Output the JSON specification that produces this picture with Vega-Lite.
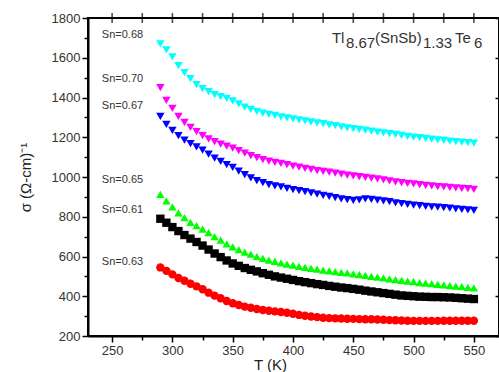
{
  "$schema": "https://vega.github.io/schema/vega-lite/v6.json",
  "width": 411,
  "height": 318,
  "autosize": {"type": "none"},
  "padding": {"left": 88, "top": 18, "right": 0, "bottom": 36},
  "background": "white",
  "config": {
    "view": {"stroke": "black", "strokeWidth": 2},
    "axis": {
      "domainColor": "black", "domainWidth": 2, "tickColor": "black", "tickWidth": 1.5,
      "labelFont": "Liberation Sans", "labelFontSize": 13, "labelColor": "#333",
      "titleFont": "Liberation Sans", "titleFontSize": 15, "titleFontWeight": "normal", "titleColor": "#222",
      "grid": false
    }
  },
  "datasets": {
    "pts": [
      {"sn":"0.68","T":290,"s":1670},{"sn":"0.68","T":295,"s":1640},{"sn":"0.68","T":300,"s":1605},{"sn":"0.68","T":305,"s":1560},{"sn":"0.68","T":310,"s":1525},{"sn":"0.68","T":315,"s":1495},{"sn":"0.68","T":320,"s":1465},{"sn":"0.68","T":325,"s":1445},{"sn":"0.68","T":330,"s":1430},{"sn":"0.68","T":335,"s":1415},{"sn":"0.68","T":340,"s":1405},{"sn":"0.68","T":345,"s":1395},{"sn":"0.68","T":350,"s":1383},{"sn":"0.68","T":355,"s":1368},{"sn":"0.68","T":360,"s":1352},{"sn":"0.68","T":365,"s":1340},{"sn":"0.68","T":370,"s":1330},{"sn":"0.68","T":375,"s":1322},{"sn":"0.68","T":380,"s":1315},{"sn":"0.68","T":385,"s":1310},{"sn":"0.68","T":390,"s":1303},{"sn":"0.68","T":395,"s":1298},{"sn":"0.68","T":400,"s":1292},{"sn":"0.68","T":405,"s":1287},{"sn":"0.68","T":410,"s":1282},{"sn":"0.68","T":415,"s":1277},{"sn":"0.68","T":420,"s":1272},{"sn":"0.68","T":425,"s":1268},{"sn":"0.68","T":430,"s":1262},{"sn":"0.68","T":435,"s":1258},{"sn":"0.68","T":440,"s":1252},{"sn":"0.68","T":445,"s":1247},{"sn":"0.68","T":450,"s":1243},{"sn":"0.68","T":455,"s":1240},{"sn":"0.68","T":460,"s":1236},{"sn":"0.68","T":465,"s":1231},{"sn":"0.68","T":470,"s":1226},{"sn":"0.68","T":475,"s":1222},{"sn":"0.68","T":480,"s":1218},{"sn":"0.68","T":485,"s":1214},{"sn":"0.68","T":490,"s":1210},{"sn":"0.68","T":495,"s":1205},{"sn":"0.68","T":500,"s":1201},{"sn":"0.68","T":505,"s":1198},{"sn":"0.68","T":510,"s":1194},{"sn":"0.68","T":515,"s":1190},{"sn":"0.68","T":520,"s":1187},{"sn":"0.68","T":525,"s":1184},{"sn":"0.68","T":530,"s":1181},{"sn":"0.68","T":535,"s":1178},{"sn":"0.68","T":540,"s":1175},{"sn":"0.68","T":545,"s":1173},{"sn":"0.68","T":550,"s":1171},
      {"sn":"0.70","T":290,"s":1450},{"sn":"0.70","T":295,"s":1385},{"sn":"0.70","T":300,"s":1345},{"sn":"0.70","T":305,"s":1305},{"sn":"0.70","T":310,"s":1275},{"sn":"0.70","T":315,"s":1250},{"sn":"0.70","T":320,"s":1228},{"sn":"0.70","T":325,"s":1208},{"sn":"0.70","T":330,"s":1192},{"sn":"0.70","T":335,"s":1178},{"sn":"0.70","T":340,"s":1165},{"sn":"0.70","T":345,"s":1155},{"sn":"0.70","T":350,"s":1145},{"sn":"0.70","T":355,"s":1133},{"sn":"0.70","T":360,"s":1120},{"sn":"0.70","T":365,"s":1108},{"sn":"0.70","T":370,"s":1097},{"sn":"0.70","T":375,"s":1088},{"sn":"0.70","T":380,"s":1080},{"sn":"0.70","T":385,"s":1074},{"sn":"0.70","T":390,"s":1068},{"sn":"0.70","T":395,"s":1062},{"sn":"0.70","T":400,"s":1055},{"sn":"0.70","T":405,"s":1050},{"sn":"0.70","T":410,"s":1044},{"sn":"0.70","T":415,"s":1038},{"sn":"0.70","T":420,"s":1032},{"sn":"0.70","T":425,"s":1028},{"sn":"0.70","T":430,"s":1024},{"sn":"0.70","T":435,"s":1019},{"sn":"0.70","T":440,"s":1014},{"sn":"0.70","T":445,"s":1010},{"sn":"0.70","T":450,"s":1006},{"sn":"0.70","T":455,"s":1002},{"sn":"0.70","T":460,"s":998},{"sn":"0.70","T":465,"s":994},{"sn":"0.70","T":470,"s":990},{"sn":"0.70","T":475,"s":986},{"sn":"0.70","T":480,"s":980},{"sn":"0.70","T":485,"s":976},{"sn":"0.70","T":490,"s":972},{"sn":"0.70","T":495,"s":968},{"sn":"0.70","T":500,"s":965},{"sn":"0.70","T":505,"s":962},{"sn":"0.70","T":510,"s":958},{"sn":"0.70","T":515,"s":955},{"sn":"0.70","T":520,"s":952},{"sn":"0.70","T":525,"s":950},{"sn":"0.70","T":530,"s":948},{"sn":"0.70","T":535,"s":945},{"sn":"0.70","T":540,"s":943},{"sn":"0.70","T":545,"s":941},{"sn":"0.70","T":550,"s":938},
      {"sn":"0.67","T":290,"s":1305},{"sn":"0.67","T":295,"s":1265},{"sn":"0.67","T":300,"s":1235},{"sn":"0.67","T":305,"s":1208},{"sn":"0.67","T":310,"s":1185},{"sn":"0.67","T":315,"s":1168},{"sn":"0.67","T":320,"s":1152},{"sn":"0.67","T":325,"s":1135},{"sn":"0.67","T":330,"s":1115},{"sn":"0.67","T":335,"s":1095},{"sn":"0.67","T":340,"s":1078},{"sn":"0.67","T":345,"s":1062},{"sn":"0.67","T":350,"s":1048},{"sn":"0.67","T":355,"s":1030},{"sn":"0.67","T":360,"s":1012},{"sn":"0.67","T":365,"s":995},{"sn":"0.67","T":370,"s":982},{"sn":"0.67","T":375,"s":972},{"sn":"0.67","T":380,"s":962},{"sn":"0.67","T":385,"s":955},{"sn":"0.67","T":390,"s":950},{"sn":"0.67","T":395,"s":943},{"sn":"0.67","T":400,"s":937},{"sn":"0.67","T":405,"s":932},{"sn":"0.67","T":410,"s":926},{"sn":"0.67","T":415,"s":920},{"sn":"0.67","T":420,"s":914},{"sn":"0.67","T":425,"s":908},{"sn":"0.67","T":430,"s":902},{"sn":"0.67","T":435,"s":896},{"sn":"0.67","T":440,"s":890},{"sn":"0.67","T":445,"s":886},{"sn":"0.67","T":450,"s":882},{"sn":"0.67","T":455,"s":885},{"sn":"0.67","T":460,"s":890},{"sn":"0.67","T":465,"s":888},{"sn":"0.67","T":470,"s":884},{"sn":"0.67","T":475,"s":880},{"sn":"0.67","T":480,"s":876},{"sn":"0.67","T":485,"s":870},{"sn":"0.67","T":490,"s":866},{"sn":"0.67","T":495,"s":862},{"sn":"0.67","T":500,"s":858},{"sn":"0.67","T":505,"s":856},{"sn":"0.67","T":510,"s":852},{"sn":"0.67","T":515,"s":850},{"sn":"0.67","T":520,"s":848},{"sn":"0.67","T":525,"s":846},{"sn":"0.67","T":530,"s":843},{"sn":"0.67","T":535,"s":840},{"sn":"0.67","T":540,"s":837},{"sn":"0.67","T":545,"s":835},{"sn":"0.67","T":550,"s":832},
      {"sn":"0.65","T":290,"s":912},{"sn":"0.65","T":295,"s":880},{"sn":"0.65","T":300,"s":850},{"sn":"0.65","T":305,"s":820},{"sn":"0.65","T":310,"s":795},{"sn":"0.65","T":315,"s":772},{"sn":"0.65","T":320,"s":755},{"sn":"0.65","T":325,"s":738},{"sn":"0.65","T":330,"s":720},{"sn":"0.65","T":335,"s":700},{"sn":"0.65","T":340,"s":682},{"sn":"0.65","T":345,"s":664},{"sn":"0.65","T":350,"s":648},{"sn":"0.65","T":355,"s":635},{"sn":"0.65","T":360,"s":622},{"sn":"0.65","T":365,"s":612},{"sn":"0.65","T":370,"s":600},{"sn":"0.65","T":375,"s":590},{"sn":"0.65","T":380,"s":582},{"sn":"0.65","T":385,"s":575},{"sn":"0.65","T":390,"s":568},{"sn":"0.65","T":395,"s":562},{"sn":"0.65","T":400,"s":556},{"sn":"0.65","T":405,"s":550},{"sn":"0.65","T":410,"s":545},{"sn":"0.65","T":415,"s":540},{"sn":"0.65","T":420,"s":536},{"sn":"0.65","T":425,"s":532},{"sn":"0.65","T":430,"s":528},{"sn":"0.65","T":435,"s":524},{"sn":"0.65","T":440,"s":520},{"sn":"0.65","T":445,"s":517},{"sn":"0.65","T":450,"s":513},{"sn":"0.65","T":455,"s":509},{"sn":"0.65","T":460,"s":505},{"sn":"0.65","T":465,"s":500},{"sn":"0.65","T":470,"s":496},{"sn":"0.65","T":475,"s":492},{"sn":"0.65","T":480,"s":488},{"sn":"0.65","T":485,"s":484},{"sn":"0.65","T":490,"s":480},{"sn":"0.65","T":495,"s":476},{"sn":"0.65","T":500,"s":473},{"sn":"0.65","T":505,"s":469},{"sn":"0.65","T":510,"s":466},{"sn":"0.65","T":515,"s":463},{"sn":"0.65","T":520,"s":460},{"sn":"0.65","T":525,"s":457},{"sn":"0.65","T":530,"s":454},{"sn":"0.65","T":535,"s":451},{"sn":"0.65","T":540,"s":448},{"sn":"0.65","T":545,"s":445},{"sn":"0.65","T":550,"s":442},
      {"sn":"0.61","T":290,"s":790},{"sn":"0.61","T":295,"s":770},{"sn":"0.61","T":300,"s":748},{"sn":"0.61","T":305,"s":728},{"sn":"0.61","T":310,"s":708},{"sn":"0.61","T":315,"s":690},{"sn":"0.61","T":320,"s":673},{"sn":"0.61","T":325,"s":655},{"sn":"0.61","T":330,"s":635},{"sn":"0.61","T":335,"s":615},{"sn":"0.61","T":340,"s":597},{"sn":"0.61","T":345,"s":580},{"sn":"0.61","T":350,"s":565},{"sn":"0.61","T":355,"s":553},{"sn":"0.61","T":360,"s":542},{"sn":"0.61","T":365,"s":533},{"sn":"0.61","T":370,"s":525},{"sn":"0.61","T":375,"s":516},{"sn":"0.61","T":380,"s":508},{"sn":"0.61","T":385,"s":500},{"sn":"0.61","T":390,"s":494},{"sn":"0.61","T":395,"s":488},{"sn":"0.61","T":400,"s":482},{"sn":"0.61","T":405,"s":476},{"sn":"0.61","T":410,"s":471},{"sn":"0.61","T":415,"s":466},{"sn":"0.61","T":420,"s":461},{"sn":"0.61","T":425,"s":457},{"sn":"0.61","T":430,"s":452},{"sn":"0.61","T":435,"s":448},{"sn":"0.61","T":440,"s":444},{"sn":"0.61","T":445,"s":441},{"sn":"0.61","T":450,"s":437},{"sn":"0.61","T":455,"s":433},{"sn":"0.61","T":460,"s":428},{"sn":"0.61","T":465,"s":424},{"sn":"0.61","T":470,"s":420},{"sn":"0.61","T":475,"s":416},{"sn":"0.61","T":480,"s":412},{"sn":"0.61","T":485,"s":408},{"sn":"0.61","T":490,"s":404},{"sn":"0.61","T":495,"s":402},{"sn":"0.61","T":500,"s":400},{"sn":"0.61","T":505,"s":398},{"sn":"0.61","T":510,"s":397},{"sn":"0.61","T":515,"s":396},{"sn":"0.61","T":520,"s":396},{"sn":"0.61","T":525,"s":395},{"sn":"0.61","T":530,"s":394},{"sn":"0.61","T":535,"s":392},{"sn":"0.61","T":540,"s":390},{"sn":"0.61","T":545,"s":388},{"sn":"0.61","T":550,"s":386},
      {"sn":"0.63","T":290,"s":545},{"sn":"0.63","T":295,"s":528},{"sn":"0.63","T":300,"s":510},{"sn":"0.63","T":305,"s":492},{"sn":"0.63","T":310,"s":478},{"sn":"0.63","T":315,"s":463},{"sn":"0.63","T":320,"s":450},{"sn":"0.63","T":325,"s":435},{"sn":"0.63","T":330,"s":418},{"sn":"0.63","T":335,"s":403},{"sn":"0.63","T":340,"s":390},{"sn":"0.63","T":345,"s":376},{"sn":"0.63","T":350,"s":365},{"sn":"0.63","T":355,"s":356},{"sn":"0.63","T":360,"s":348},{"sn":"0.63","T":365,"s":342},{"sn":"0.63","T":370,"s":336},{"sn":"0.63","T":375,"s":331},{"sn":"0.63","T":380,"s":327},{"sn":"0.63","T":385,"s":324},{"sn":"0.63","T":390,"s":321},{"sn":"0.63","T":395,"s":317},{"sn":"0.63","T":400,"s":312},{"sn":"0.63","T":405,"s":306},{"sn":"0.63","T":410,"s":302},{"sn":"0.63","T":415,"s":298},{"sn":"0.63","T":420,"s":295},{"sn":"0.63","T":425,"s":292},{"sn":"0.63","T":430,"s":290},{"sn":"0.63","T":435,"s":289},{"sn":"0.63","T":440,"s":288},{"sn":"0.63","T":445,"s":287},{"sn":"0.63","T":450,"s":286},{"sn":"0.63","T":455,"s":285},{"sn":"0.63","T":460,"s":284},{"sn":"0.63","T":465,"s":284},{"sn":"0.63","T":470,"s":283},{"sn":"0.63","T":475,"s":282},{"sn":"0.63","T":480,"s":280},{"sn":"0.63","T":485,"s":279},{"sn":"0.63","T":490,"s":278},{"sn":"0.63","T":495,"s":277},{"sn":"0.63","T":500,"s":276},{"sn":"0.63","T":505,"s":276},{"sn":"0.63","T":510,"s":276},{"sn":"0.63","T":515,"s":276},{"sn":"0.63","T":520,"s":276},{"sn":"0.63","T":525,"s":277},{"sn":"0.63","T":530,"s":277},{"sn":"0.63","T":535,"s":277},{"sn":"0.63","T":540,"s":277},{"sn":"0.63","T":545,"s":277},{"sn":"0.63","T":550,"s":277}
    ],
    "labels": [
      {"T":241.5,"s":1714,"txt":"Sn=0.68"},
      {"T":241.5,"s":1493,"txt":"Sn=0.70"},
      {"T":241.5,"s":1357,"txt":"Sn=0.67"},
      {"T":241.5,"s":985,"txt":"Sn=0.65"},
      {"T":241.5,"s":834,"txt":"Sn=0.61"},
      {"T":241.5,"s":572,"txt":"Sn=0.63"}
    ],
    "formulaBase": [
      {"T":432.3,"s":1674,"txt":"Tl"},
      {"T":468.0,"s":1674,"txt":"(SnSb)"},
      {"T":534.3,"s":1674,"txt":"Te"}
    ],
    "formulaSub": [
      {"T":443.9,"s":1674,"txt":"8.67"},
      {"T":507.8,"s":1674,"txt":"1.33"},
      {"T":550.1,"s":1674,"txt":"6"}
    ],
    "topTicks": [
      {"v":250},{"v":275},{"v":300},{"v":325},{"v":350},{"v":375},{"v":400},{"v":425},{"v":450},{"v":475},{"v":500},{"v":525},{"v":550}
    ]
  },
  "resolve": {"axis": {"x": "independent", "y": "independent"}},
  "layer": [
    {
      "data": {"name": "pts"},
      "mark": {"type": "point", "filled": true, "size": 70, "opacity": 1},
      "encoding": {
        "x": {"field": "T", "type": "quantitative",
              "scale": {"domain": [230, 570.83], "nice": false, "zero": false},
              "axis": {"title": "T (K)", "values": [250,275,300,325,350,375,400,425,450,475,500,525,550],
                       "labelExpr": "datum.value % 50 === 0 ? datum.label : ''",
                       "tickSize": {"condition": {"test": "datum.value % 50 === 0", "value": 6}, "value": 4},
                       "labelPadding": 2, "titlePadding": 0, "titleX": 182, "labelFlush": false}},
        "y": {"field": "s", "type": "quantitative",
              "scale": {"domain": [200, 1800], "nice": false, "zero": false},
              "axis": {"title": "σ (Ω-cm)⁻¹", "values": [200,300,400,500,600,700,800,900,1000,1100,1200,1300,1400,1500,1600,1700,1800],
                       "labelExpr": "datum.value % 200 === 0 ? datum.label : ''",
                       "format": "d",
                       "tickSize": {"condition": {"test": "datum.value % 200 === 0", "value": 6}, "value": 4},
                       "labelPadding": 2, "titlePadding": 18, "labelFlush": false}},
        "color": {"field": "sn", "type": "nominal", "legend": null,
                  "scale": {"domain": ["0.68","0.70","0.67","0.65","0.61","0.63"],
                            "range": ["#00FFFF","#FF00FF","#0000FF","#00FF00","#000000","#FF0000"]}},
        "shape": {"field": "sn", "type": "nominal", "legend": null,
                  "scale": {"domain": ["0.68","0.70","0.67","0.65","0.61","0.63"],
                            "range": ["triangle-down","triangle-down","triangle-down","triangle-up","square","circle"]}}
      }
    },
    {
      "data": {"name": "pts"},
      "mark": {"type": "point", "opacity": 0},
      "encoding": {
        "x": {"field": "T", "type": "quantitative", "axis": null},
        "y": {"field": "s", "type": "quantitative",
              "axis": {"orient": "right", "title": null, "labels": false, "domain": false,
                       "values": [200,400,600,800,1000,1200,1400,1600,1800],
                       "tickSize": -4}}
      }
    },
    {
      "data": {"name": "topTicks"},
      "mark": {"type": "tick", "color": "black", "orient": "vertical", "thickness": 1.6, "size": 10},
      "encoding": {
        "x": {"field": "v", "type": "quantitative", "axis": null},
        "y": {"datum": 1800, "type": "quantitative", "axis": null}
      }
    },
    {
      "data": {"name": "labels"},
      "mark": {"type": "text", "align": "left", "baseline": "middle", "font": "Liberation Sans", "fontSize": 11, "color": "#333"},
      "encoding": {
        "x": {"field": "T", "type": "quantitative", "axis": null},
        "y": {"field": "s", "type": "quantitative", "axis": null},
        "text": {"field": "txt"}
      }
    },
    {
      "data": {"name": "formulaBase"},
      "mark": {"type": "text", "align": "left", "baseline": "alphabetic", "font": "Liberation Sans", "fontSize": 15, "color": "#333"},
      "encoding": {
        "x": {"field": "T", "type": "quantitative", "axis": null},
        "y": {"field": "s", "type": "quantitative", "axis": null},
        "text": {"field": "txt"}
      }
    },
    {
      "data": {"name": "formulaSub"},
      "mark": {"type": "text", "align": "left", "baseline": "alphabetic", "dy": 5, "font": "Liberation Sans", "fontSize": 15, "color": "#333"},
      "encoding": {
        "x": {"field": "T", "type": "quantitative", "axis": null},
        "y": {"field": "s", "type": "quantitative", "axis": null},
        "text": {"field": "txt"}
      }
    }
  ]
}
